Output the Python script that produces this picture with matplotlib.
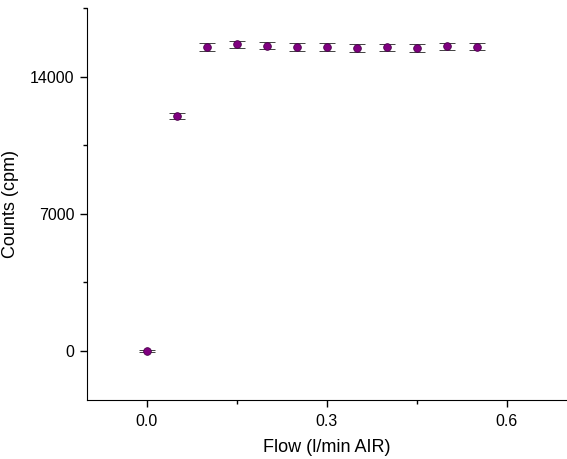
import matplotlib.pyplot as plt
from matplotlib.ticker import MultipleLocator

plt.rcParams['font.family'] = ['Liberation Sans', 'DejaVu Sans']

flow = [0.0, 0.05, 0.10, 0.15, 0.20, 0.25, 0.30, 0.35, 0.40, 0.45, 0.50, 0.55]
counts = [0, 12010, 15520, 15640, 15570, 15500, 15520, 15450, 15500, 15470, 15550, 15520]
errors = [40, 150, 200, 200, 180, 200, 200, 200, 180, 200, 180, 180]

fig = plt.figure(figsize=(5.67, 4.59), dpi=100)
ax = fig.add_axes([0.1534, 0.1285, 0.8466, 0.8541])

ax.errorbar(flow, counts, yerr=errors, fmt='o', color='#800080', markersize=5.5,
            markeredgecolor='#4a004a', markeredgewidth=0.6,
            ecolor='#222222', elinewidth=1.0, capsize=6, capthick=1.0)

ax.set_xlim(-0.1, 0.7)
ax.set_ylim(-2500, 17500)
ax.xaxis.set_major_locator(MultipleLocator(0.3))
ax.xaxis.set_minor_locator(MultipleLocator(0.15))
ax.yaxis.set_major_locator(MultipleLocator(7000))
ax.yaxis.set_minor_locator(MultipleLocator(3500))
ax.xaxis.set_major_formatter(plt.FuncFormatter(lambda v, p: '%.1f' % v))

for s in ['top', 'right']:
    ax.spines[s].set_visible(False)
ax.tick_params(which='major', direction='out', length=5, width=1, labelsize=11.5)
ax.tick_params(axis='x', which='major', pad=5)
ax.tick_params(axis='y', which='major', pad=4)
ax.tick_params(which='minor', direction='out', length=3, width=1)

ax.set_xlabel('Flow (l/min AIR)', fontsize=13, labelpad=7)
ax.set_ylabel('Counts (cpm)', fontsize=13, labelpad=8)

plt.savefig('out.png', dpi=100)
